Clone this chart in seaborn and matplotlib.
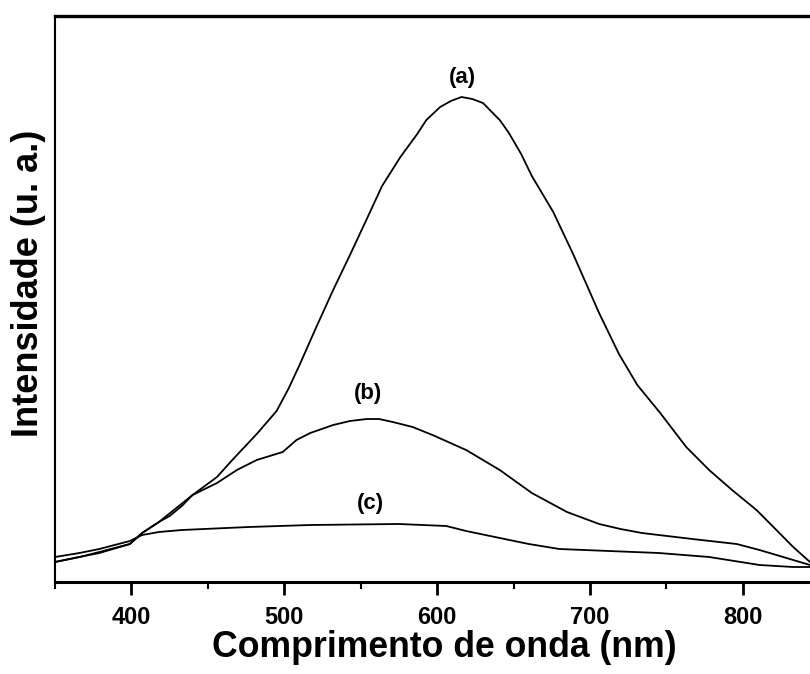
import numpy as np
import pandas as pd
import matplotlib
matplotlib.use("Agg")
import matplotlib.pyplot as plt
import seaborn as sns
from matplotlib.ticker import MultipleLocator, NullLocator

# Emission spectra (wavelength in nm, intensity in arbitrary units)
wl_a = [350, 366, 379, 399, 407, 418, 425, 433, 440, 456, 466, 482, 495, 503, 510,
        521, 532, 543, 554, 564, 576, 587, 593, 602, 609, 616, 623, 630, 641, 647,
        655, 662, 676, 689, 706, 719, 731, 746, 763, 778, 793, 809, 822, 833, 844]
int_a = [20, 25, 30, 38, 49, 60, 66, 76, 87, 105, 122, 148, 171, 194, 217,
         255, 292, 327, 363, 396, 425, 448, 462, 475, 481, 485, 483, 479, 462, 449,
         428, 406, 370, 328, 269, 228, 197, 169, 135, 112, 92, 72, 52, 35, 20]

wl_b = [350, 366, 379, 399, 407, 418, 440, 456, 469, 482, 499, 508, 517, 532, 543,
        554, 562, 571, 584, 597, 619, 641, 662, 685, 706, 720, 734, 767, 796, 811,
        822, 833, 844]
int_b = [20, 25, 29, 38, 49, 60, 87, 99, 112, 122, 130, 142, 149, 157, 161,
         163, 163, 160, 155, 147, 132, 112, 89, 70, 58, 53, 49, 43, 38, 32,
         27, 22, 17]

wl_c = [350, 366, 379, 399, 407, 418, 433, 477, 517, 575, 606, 619, 641, 660, 680,
        745, 778, 811, 833, 844]
int_c = [25, 29, 33, 41, 47, 50, 52, 55, 57, 58, 56, 51, 44, 38, 33,
         29, 25, 17, 15, 15]

series_labels = ["(a)", "(b)", "(c)"]
label_pos_x = [616.6, 555.1, 556.4]
label_pos_y = [505, 188, 78]

x_ticks = [400, 500, 600, 700, 800]

df = pd.concat([
    pd.DataFrame({"wl": wl_a, "I": int_a, "s": "(a)"}),
    pd.DataFrame({"wl": wl_b, "I": int_b, "s": "(b)"}),
    pd.DataFrame({"wl": wl_c, "I": int_c, "s": "(c)"}),
])

sns.set_style("ticks")
plt.rcParams["font.family"] = ["Liberation Sans", "DejaVu Sans"]
plt.rcParams["font.weight"] = "bold"
plt.rcParams["text.color"] = "black"
plt.rcParams["axes.edgecolor"] = "black"
plt.rcParams["axes.labelcolor"] = "black"
plt.rcParams["xtick.color"] = "black"
plt.rcParams["ytick.color"] = "black"

fig = plt.figure(figsize=(8.1, 6.74), dpi=100)
ax = fig.add_axes([55 / 810, 92 / 674, 1 - 55 / 810, 566 / 674])

sns.lineplot(data=df, x="wl", y="I", units="s", estimator=None, sort=False,
             color="black", linewidth=1.3, ax=ax, legend=False)

for lab, lx, ly in zip(series_labels, label_pos_x, label_pos_y):
    ax.text(lx, ly, lab, ha="center", va="center", fontsize=16,
            fontweight="bold", color="black")

ax.set_xlim(350, 844)
ax.set_ylim(0, 566)
ax.set_xticks(x_ticks)
ax.xaxis.set_minor_locator(MultipleLocator(50))
ax.yaxis.set_major_locator(NullLocator())
ax.tick_params(axis="x", which="major", direction="out", length=9, width=2,
               labelsize=17, pad=8, colors="black")
ax.tick_params(axis="x", which="minor", direction="out", length=5, width=1.5,
               colors="black")
for lbl in ax.get_xticklabels():
    lbl.set_fontweight("bold")

ax.spines["right"].set_visible(False)
ax.spines["top"].set_linewidth(2.4)
ax.spines["bottom"].set_linewidth(2.2)
ax.spines["left"].set_linewidth(1.5)

ax.set_xlabel("Comprimento de onda (nm)", fontsize=25.7, fontweight="bold",
              color="black")
ax.set_ylabel("Intensidade (u. a.)", fontsize=26, fontweight="bold",
              color="black")
ax.xaxis.set_label_coords(0.516, -0.085)
ax.yaxis.set_label_coords(-0.012, 0.527)

fig.savefig("out.png", dpi=100)
